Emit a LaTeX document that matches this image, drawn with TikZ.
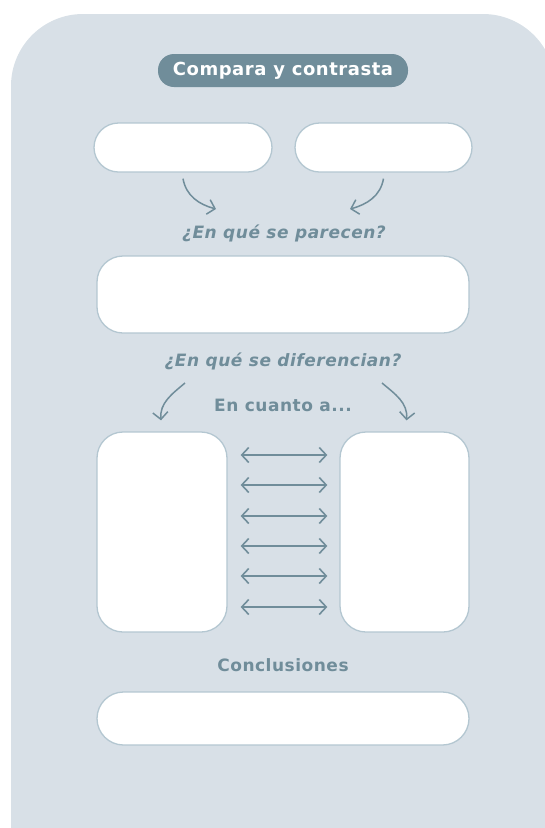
\documentclass[tikz,border=0pt]{standalone}
\usepackage{fontspec}
\setmainfont{DejaVu Sans}[LetterSpace=3]
\usepackage{xcolor}
\usetikzlibrary{arrows.meta,positioning}

\definecolor{panelbg}{HTML}{D8E0E7}
\definecolor{slate}{HTML}{708D9A}
\definecolor{boxline}{HTML}{B4C7D1}

\begin{document}
\begin{tikzpicture}[x=1pt,y=-1pt,
    pill/.style={rectangle, draw=boxline, line width=1.3pt, fill=white, inner sep=0pt, rounded corners=24.5pt},
    card/.style={rectangle, draw=boxline, line width=1.3pt, fill=white, inner sep=0pt, rounded corners=26pt},
    title/.style={rectangle, fill=slate, text=white, rounded corners=16pt, minimum width=250pt, minimum height=33pt, font=\bfseries\fontsize{18}{20}\selectfont},
    question/.style={text=slate, font=\bfseries\itshape\fontsize{17}{19}\selectfont},
    heading/.style={text=slate, font=\bfseries\fontsize{17}{19}\selectfont},
    arrow/.style={-{Straight Barb[length=7pt,width=15pt]}, slate, line width=1.5pt},
    dblarrow/.style={{Straight Barb[length=7pt,width=15pt]}-{Straight Barb[length=7pt,width=15pt]}, slate, line width=1.6pt}
]
\useasboundingbox (0,0) rectangle (545,828);

% Background panel
\begin{scope}
\clip (0,0) rectangle (545,828);
\fill[panelbg, rounded corners=72pt] (11,980) -- (11,14) -- (555,14) -- (555,980) -- cycle;
\end{scope}

% Title
\node[title] (title) at (283,70.5) {Compara y contrasta};

% Top boxes
\node[pill, minimum width=178pt, minimum height=49pt] (left) at (183,147.5) {};
\node[pill, minimum width=177pt, minimum height=49pt] (right) at (383.5,147.5) {};

% Similarities
\node[question] (alike) at (284,233) {¿En qué se parecen?};
\node[card, minimum width=372pt, minimum height=77pt] (alikebox) at (283,294.5) {};

\coordinate (lend) at (216,209);
\coordinate (rend) at (350,209);
\draw[arrow] ([yshift=-6pt]left.south) to[out=-80,in=165] (lend);
\draw[arrow] ([yshift=-6pt]right.south) to[out=-100,in=15] (rend);

% Differences
\node[question] (differ) at (283,361) {¿En qué se diferencian?};
\node[heading] (about) at (283,405) {En cuanto a...};

\node[card, minimum width=130pt, minimum height=200pt] (lcol) at (162,532) {};
\node[card, minimum width=129pt, minimum height=200pt] (rcol) at (404.5,532) {};

\coordinate (ltop) at (185,383);
\coordinate (rtop) at (382,383);
\draw[arrow] (ltop) to[out=-140,in=95] ([xshift=-1pt,yshift=11pt]lcol.north);
\draw[arrow] (rtop) to[out=-40,in=85] ([xshift=2pt,yshift=11pt]rcol.north);

\foreach \y in {455,485,516,546,576,607}
  \draw[dblarrow, shorten <=13pt, shorten >=12pt] (lcol.east |- 0,\y) -- (rcol.west |- 0,\y);

% Conclusions
\node[heading] (concl) at (283,665) {Conclusiones};
\node[pill, minimum width=372pt, minimum height=53pt, rounded corners=26.5pt] (conclbox) at (283,718.5) {};

\end{tikzpicture}
\end{document}
